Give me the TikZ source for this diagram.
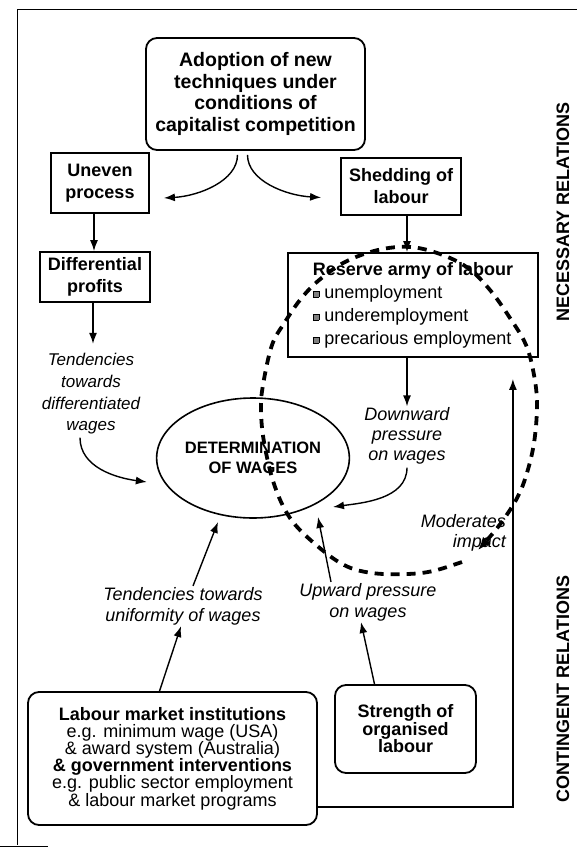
\documentclass[tikz,border=0pt]{standalone}
\usepackage{fontspec}
\setmainfont{Liberation Sans}
\usetikzlibrary{arrows.meta,shapes.geometric,calc}

\newcommand{\sqbul}{\raisebox{1.5pt}{\setlength{\fboxsep}{0pt}\setlength{\fboxrule}{0.7pt}\fbox{\textcolor{gray}{\rule{5pt}{5pt}}}}}

\begin{document}
\begin{tikzpicture}[x=1pt, y=-1pt,
    every node/.style={font=\fontsize{18}{21.5}\selectfont},
    box/.style={draw, line width=1.8pt, align=center, inner sep=0pt, font=\fontsize{18}{22}\selectfont\bfseries},
    rbox/.style={box, rounded corners=11pt},
    note/.style={align=center, inner sep=1pt, font=\fontsize{18}{21}\selectfont\itshape},
    arr/.style={-{Latex[length=11pt,width=8pt]}, line width=1.4pt},
    loopline/.style={line width=3.8pt, dash pattern=on 9pt off 7pt},
    side/.style={rotate=90, font=\fontsize{18}{20}\selectfont\bfseries}]
    \useasboundingbox (0,0) rectangle (577,850);

    % Frame of the page
    \draw[line width=1pt] (17,10) -- (577,10);
    \draw[line width=1pt] (17,10) -- (17,845);
    \draw[line width=1pt] (0,846) -- (48,846);

    % Necessary relations
    \node[rbox, minimum width=219pt, minimum height=112pt, font=\fontsize{19.5}{21.7}\selectfont\bfseries] (adopt) at (255.5,94) {Adoption of new\\techniques under\\conditions of\\capitalist competition};
    \node[box, minimum width=98pt, minimum height=60pt] (uneven) at (100,183) {Uneven\\process};
    \node[box, minimum width=120pt, minimum height=57pt] (shed) at (401,186.5) {Shedding of\\labour};
    \node[box, minimum width=110pt, minimum height=50pt] (diff) at (95,277) {Differential\\profits};
    \node[box, minimum width=250pt, minimum height=104pt, align=left, font=\fontsize{18}{23}\selectfont] (reserve) at (413,305) {\textbf{Reserve army of labour}\\\sqbul\ unemployment\\\sqbul\ underemployment\\\sqbul\ precarious employment};

    % Wages
    \node[draw, ellipse, line width=1.6pt, minimum width=181pt, minimum height=120pt, inner sep=0pt, align=center, font=\fontsize{16.5}{20.5}\selectfont\bfseries] (wages) at (253,458) {DETERMINATION\\OF WAGES};

    % Labels
    \node[note, font=\fontsize{17}{21.7}\selectfont\itshape] (tdiff) at (91,394) {Tendencies\\towards\\differentiated\\wages};
    \node[note, font=\fontsize{18}{20}\selectfont\itshape] (down) at (407,436) {Downward\\pressure\\on wages};
    \node[note] (tunif) at (183,606) {Tendencies towards\\uniformity of wages};
    \node[note] (up) at (368,602) {Upward pressure\\on wages};
    \node[note, align=right, anchor=east, font=\fontsize{18}{20}\selectfont\itshape] (moder) at (507,533) {Moderates\\impact};

    % Contingent relations
    \node[rbox, minimum width=289pt, minimum height=133pt, font=\fontsize{18}{17.2}\selectfont] (labour) at (172.5,758.5) {\textbf{Labour market institutions}\\e.g. minimum wage (USA)\\\& award system (Australia)\\\textbf{\& government interventions}\\e.g. public sector employment\\\& labour market programs};
    \node[rbox, minimum width=141pt, minimum height=88pt, font=\fontsize{18}{17.5}\selectfont\bfseries] (strength) at (405.5,729) {Strength of\\organised\\labour};

    \node[side] (nec) at (563,212) {NECESSARY RELATIONS};
    \node[side] (cont) at (563,689) {CONTINGENT RELATIONS};

    % Arrows
    \draw[arr, shorten <=4pt] ([xshift=-18pt]adopt.south) .. controls +(0,30) and +(35,-2) .. ([shift={(14,15)}]uneven.east);
    \draw[arr, shorten <=4pt] ([xshift=-8pt]adopt.south) .. controls +(0,30) and +(-35,-2) .. ([shift={(-19,11)}]shed.west);
    \draw[arr] ([xshift=-6pt]uneven.south) -- ([xshift=-1pt]diff.north);
    \draw[arr] ([xshift=-2pt]diff.south) -- ([shift={(-2,41)}]diff.south);
    \draw[arr] (shed.south -| down.north) -- (reserve.north -| down.north);
    \draw[arr] (reserve.south -| down.north) -- (down.north);
    \draw[arr] ([shift={(-11,2)}]tdiff.south) .. controls +(0,30) and +(-30,-4) .. ([shift={(-9,24)}]wages.west);
    \draw[arr] ([yshift=-2pt]down.south) .. controls +(0,32) and +(28,-4) .. ([shift={(80,49)}]wages.center);
    \draw[arr] ([xshift=10pt]tunif.north) -- ([shift={(-35,64)}]wages.center);
    \draw[arr] ([xshift=-37pt]up.north) -- ([shift={(65,59)}]wages.center);
    \draw[arr] ([xshift=-13pt]labour.north) -- ([xshift=-2pt]tunif.south);
    \draw[arr] ([xshift=-31pt]strength.north) -- ([xshift=-7pt]up.south);
    \draw[arr] ([yshift=-48.5pt]labour.east) -| ([shift={(-26,21)}]reserve.south east);

    % Dashed loop
    \draw[loopline, -{Latex[length=13pt,width=11pt]}] plot[smooth, tension=0.6] coordinates {
        (462,562) (433,571) (407,574) (372,573) (344,565) (315,544) (290,518)
        (274,484) (264,442) (261,410) (263,385) (272,345) (285,322) (300,300)
        (318,281) (345,262) (378,250) (410,247) (440,254) (468,268) (490,290)
        (510,318) (526,345) (534,375) (537,405) (534,443) (526,476) (516,500)
        (498,527) (478,550)};
\end{tikzpicture}
\end{document}
